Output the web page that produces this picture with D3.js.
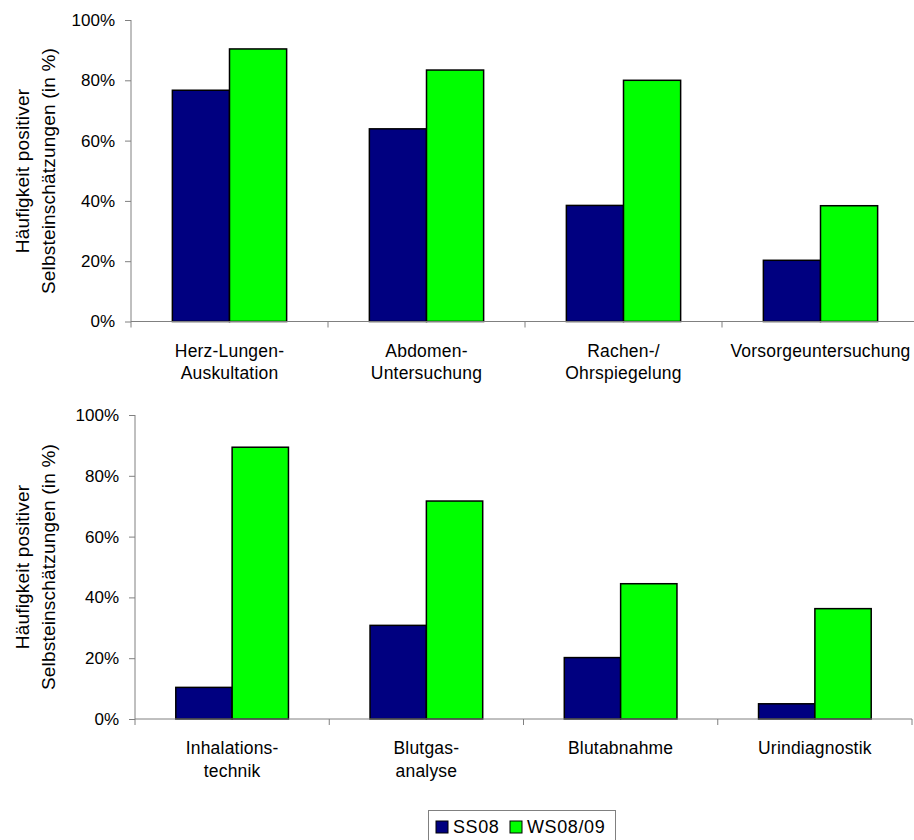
<!DOCTYPE html>
<html>
<head>
<meta charset="utf-8">
<script src="https://cdn.jsdelivr.net/npm/d3@7"></script>
<style>
html,body{margin:0;padding:0;background:#fff;}
svg{display:block;font-family:"Liberation Sans",Arial,sans-serif;}
</style>
</head>
<body>
<svg id="chart" width="914" height="840"></svg>
<script>
// ---- data ----
const seriesNames = ["SS08", "WS08/09"];
const topCategories = [["Herz-Lungen-","Auskultation"],["Abdomen-","Untersuchung"],["Rachen-/","Ohrspiegelung"],["Vorsorgeuntersuchung"]];
const topSS08 = [76.7, 63.9, 38.5, 20.3];
const topWS0809 = [90.4, 83.4, 80.0, 38.4];
const bottomCategories = [["Inhalations-","technik"],["Blutgas-","analyse"],["Blutabnahme"],["Urindiagnostik"]];
const bottomSS08 = [10.4, 30.8, 20.2, 5.0];
const bottomWS0809 = [89.4, 71.7, 44.5, 36.3];
const yTicks = [0, 20, 40, 60, 80, 100];
const yTitle = ["Häufigkeit positiver", "Selbsteinschätzungen (in %)"];
const colors = ["#000080", "#00FF00"];

const svg = d3.select("#chart");

function drawChart(cfg, cats, s1, s2) {
  const g = svg.append("g");
  const keys = cats.map((c, i) => i);
  const x0 = d3.scaleBand().domain(keys).range([cfg.x0, cfg.x1]).paddingInner(0.42).paddingOuter(0.21);
  const x1 = d3.scaleBand().domain([0, 1]).range([0, x0.bandwidth()]);
  const y = d3.scaleLinear().domain([0, 100]).range([cfg.yb, cfg.yt]);
  const step = x0.step();

  // bars
  keys.forEach(i => {
    [s1[i], s2[i]].forEach((v, j) => {
      g.append("rect")
        .attr("x", x0(i) + x1(j))
        .attr("y", y(v))
        .attr("width", x1.bandwidth())
        .attr("height", y(0) - y(v))
        .attr("fill", colors[j])
        .attr("stroke", "#000")
        .attr("stroke-width", 1.5);
    });
  });

  // y axis
  const ya = g.append("g").attr("transform", `translate(${cfg.x0},0)`)
    .call(d3.axisLeft(y).tickValues(yTicks).tickFormat(d => d + "%").tickSize(6).tickPadding(10));
  ya.select(".domain").remove();
  ya.selectAll(".tick line").attr("stroke", "#808080");
  ya.selectAll("text").attr("font-size", 17).attr("fill", "#000")
    .attr("font-family", "Liberation Sans, Arial, sans-serif");
  g.append("line").attr("x1", cfg.x0).attr("x2", cfg.x0).attr("y1", cfg.yt).attr("y2", cfg.yb + 6).attr("stroke", "#808080");

  // x axis line and ticks at category boundaries
  g.append("line").attr("x1", cfg.x0).attr("x2", cfg.x1).attr("y1", cfg.yb).attr("y2", cfg.yb).attr("stroke", "#808080");
  keys.forEach(i => {
    const bx = cfg.x0 + step * (i + 1);
    g.append("line").attr("x1", bx).attr("x2", bx).attr("y1", cfg.yb).attr("y2", cfg.yb + 6).attr("stroke", "#808080");
  });

  // category labels
  keys.forEach(i => {
    const cx = x0(i) + x0.bandwidth() / 2;
    const t = g.append("text").attr("text-anchor", "middle").attr("font-size", 17.5).attr("letter-spacing", 0.2).attr("fill", "#000");
    cats[i].forEach((line, k) => {
      t.append("tspan").attr("x", cx).attr("y", cfg.yb + 35 + k * 22.5).text(line);
    });
  });

  // y title
  const tt = g.append("text").attr("transform", `translate(0,${cfg.ymid}) rotate(-90)`)
    .attr("text-anchor", "middle").attr("font-size", 19).attr("letter-spacing", 0.2).attr("fill", "#000");
  yTitle.forEach((line, k) => {
    tt.append("tspan").attr("x", 0).attr("y", 28.5 + k * 26).text(line);
  });
}

drawChart({x0: 131, x1: 919, yt: 20, yb: 321.5, ymid: 171}, topCategories, topSS08, topWS0809);
drawChart({x0: 135, x1: 912, yt: 415, yb: 719, ymid: 567}, bottomCategories, bottomSS08, bottomWS0809);

// legend
const lg = svg.append("g");
lg.append("rect").attr("x", 428.5).attr("y", 810.5).attr("width", 187).attr("height", 40)
  .attr("fill", "#fff").attr("stroke", "#808080");
const legendX = [436, 510];
seriesNames.forEach((name, j) => {
  lg.append("rect").attr("x", legendX[j]).attr("y", 821).attr("width", 12).attr("height", 12)
    .attr("fill", colors[j]).attr("stroke", "#000").attr("stroke-width", 1);
  lg.append("text").attr("x", legendX[j] + 17).attr("y", 833).attr("font-size", 18).attr("letter-spacing", 0.6)
    .attr("fill", "#000").text(name);
});
</script>
</body>
</html>
